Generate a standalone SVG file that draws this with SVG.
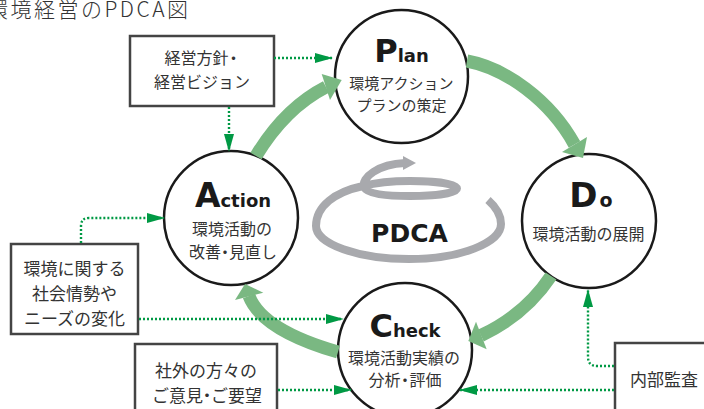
<svg xmlns="http://www.w3.org/2000/svg" width="704" height="409" viewBox="0 0 704 409">
<defs>
<style>
.jp{font-family:"Noto Sans CJK JP","Noto Sans",sans-serif;fill:#333;text-anchor:middle}
.circ{fill:#fff;stroke:#1a1a1a;stroke-width:2.5}
.box{fill:#fff;stroke:#444;stroke-width:2.5}
.big{font-family:"DejaVu Sans",sans-serif;font-weight:bold;fill:#1a1a1a;text-anchor:middle}
.band{fill:none;stroke:#7ab882;stroke-width:13}
.head{fill:#7ab882}
.dot{fill:none;stroke:#009944;stroke-width:2.4;stroke-dasharray:2 2;marker-end:url(#ah)}
.spiral{fill:none;stroke:#a8a9ad;stroke-width:8}
</style>
<marker id="ah" markerUnits="userSpaceOnUse" markerWidth="18" markerHeight="10" refX="17" refY="5" orient="auto">
<path d="M0,0 L18,5 L0,10 z" fill="#009944"/>
</marker>
</defs>
<rect width="704" height="409" fill="#fff"/>
<text x="-13" y="17" font-family="Noto Sans CJK JP, sans-serif" font-size="21" font-weight="300" letter-spacing="2.5" fill="#333">環境経営のPDCA図</text>

<g id="pdca-spiral">
<path class="spiral" d="M488,200 C496,207 501,215 501,224 C501,243 460,259 409,259 C358,259 316,244 316,226 C316,206 335,192 363,186 C378,182 395,181 410,181 C436,181 457,184 457,188.5 C457,193 436,196 410,196 C386,196 367,194 364,187 C361,178 378,164 405,163"/>
<polygon points="403,156 416,163 403,170" fill="#a8a9ad"/>
<text x="409.5" y="242" font-family="DejaVu Sans, sans-serif" font-weight="bold" font-size="25" fill="#1a1a1a" text-anchor="middle">PDCA</text>
</g>

<g id="plan">
<circle class="circ" cx="401.5" cy="76.5" r="66.5"/>
<text class="big" x="401.5" y="62"><tspan font-size="32">P</tspan><tspan font-size="18">lan</tspan></text>
<text class="jp" x="401.5" y="88.5" font-size="15">環境アクション</text>
<text class="jp" x="401.5" y="110.5" font-size="15">プランの策定</text>
</g>
<g id="do">
<circle class="circ" cx="589" cy="221" r="67"/>
<text class="big" x="591" y="207"><tspan font-size="34">D</tspan><tspan font-size="19" dx="2">o</tspan></text>
<text class="jp" x="588.5" y="240" font-size="16">環境活動の展開</text>
</g>
<g id="check">
<circle class="circ" cx="405" cy="350" r="67"/>
<text class="big" x="405" y="337"><tspan font-size="32">C</tspan><tspan font-size="18">heck</tspan></text>
<text class="jp" x="404" y="364" font-size="16">環境活動実績の</text>
<text class="jp" x="405" y="386" font-size="16">分析<tspan dx="-3.5">・</tspan><tspan dx="-3.5">評価</tspan></text>
</g>
<g id="action">
<circle class="circ" cx="231" cy="218" r="67"/>
<text class="big" x="233" y="207"><tspan font-size="33">A</tspan><tspan font-size="18">ction</tspan></text>
<text class="jp" x="232" y="235" font-size="16">環境活動の</text>
<text class="jp" x="233" y="258" font-size="16">改善<tspan dx="-4">・</tspan><tspan dx="-4">見直し</tspan></text>
</g>

<g id="box-policy">
<rect class="box" x="130" y="36" width="144" height="70"/>
<text class="jp" x="203" y="64" font-size="16">経営方針<tspan dx="-3">・</tspan></text>
<text class="jp" x="202" y="88" font-size="16">経営ビジョン</text>
</g>
<g id="box-society">
<rect class="box" x="11" y="244" width="127" height="90"/>
<text class="jp" x="74.5" y="274.5" font-size="17">環境に関する</text>
<text class="jp" x="74.5" y="299.5" font-size="17">社会情勢や</text>
<text class="jp" x="74.5" y="325" font-size="17">ニーズの変化</text>
</g>
<g id="box-opinion">
<rect class="box" x="135" y="344" width="142" height="80"/>
<text class="jp" x="206" y="377" font-size="17">社外の方々の</text>
<text class="jp" x="207" y="402" font-size="17">ご意見<tspan dx="-4.5">・</tspan><tspan dx="-4.5">ご要望</tspan></text>
</g>
<g id="box-audit">
<rect class="box" x="615" y="343" width="100" height="80"/>
<text class="jp" x="664" y="386" font-size="17">内部監査</text>
</g>

<g id="connectors">
<path class="band" d="M256,156 Q285,108 326,87"/>
<polygon class="head" points="321.7,74 341.7,80 330,100"/>
<path class="band" d="M467,61 C505,68 550,100 574.5,144.5"/>
<polygon class="head" points="562,152 587,137 583,158"/>
<path class="band" d="M551,276 Q525,315 481,335.5"/>
<polygon class="head" points="476,321.7 486.7,349.3 468.3,341"/>
<path class="band" d="M338,352 Q262,330 249,296"/>
<polygon class="head" points="235,300 263.3,292.7 245,284"/>

<path class="dot" d="M274,58 L332,58"/>
<path class="dot" d="M229,107 L229,151"/>
<path class="dot" d="M81,243 L81,226 Q81,218 89,218 L164,218"/>
<path class="dot" d="M139,319 L343,319"/>
<path class="dot" d="M278,390 L351,390"/>
<path class="dot" d="M614,390 L460,390"/>
<path class="dot" d="M614,366 L597,366 Q588,366 588,357 L588,290"/>
</g>
</svg>
